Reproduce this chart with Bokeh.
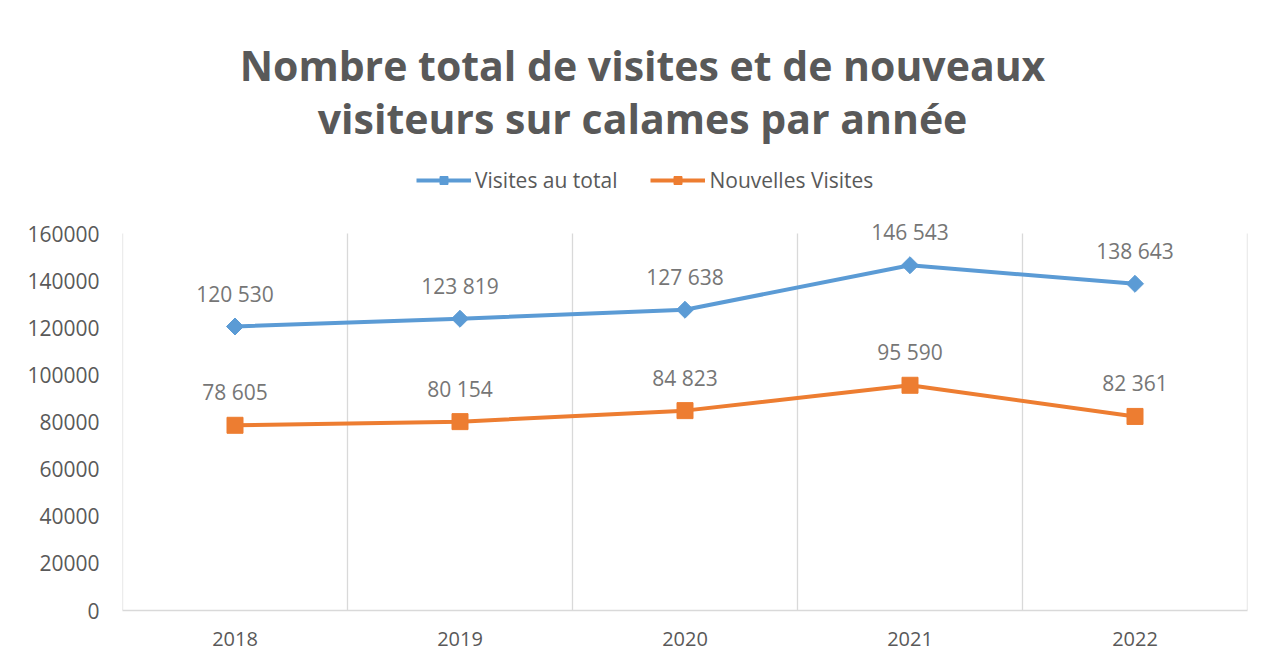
import numpy as np
from bokeh.plotting import figure
from bokeh.core.properties import value
from bokeh.models import (ColumnDataSource, FixedTicker, Label, LabelSet, Legend,
                          LegendItem, NumeralTickFormatter, Range1d)
from bokeh.embed import file_html
from bokeh.resources import INLINE

# ---- data ----
years = ["2018", "2019", "2020", "2021", "2022"]
total_visits = [120530, 123819, 127638, 146543, 138643]
new_visits = [78605, 80154, 84823, 95590, 82361]
series_names = ["Visites au total", "Nouvelles Visites"]
title_lines = ["Nombre total de visites et de nouveaux",
               "visiteurs sur calames par année"]
y_ticks = [0, 20000, 40000, 60000, 80000, 100000, 120000, 140000, 160000]

BLUE = "#5B9BD5"
ORANGE = "#ED7D31"
TEXT = "#595959"
LABEL = "#767676"
GRID = "#D9D9D9"
FONT = "Open Sans"

# layout (page pixels)
W, H = 1260, 655
PLOT_L, PLOT_R, PLOT_T, PLOT_B = 122, 1247, 233, 610
BL = PLOT_L
BR = W - PLOT_R
BT = 0
BB = H - PLOT_B
FH = PLOT_B - BT

xs = list(range(len(years)))
x0, x1 = -0.5, len(years) - 0.5
y0 = 0
ytop = y_ticks[-1]
y1 = ytop * FH / (PLOT_B - PLOT_T)   # frame extends above the plot area

def fmt(v):
    return f"{v:,}".replace(",", " ")

def x_at(px):
    return x0 + (px - PLOT_L) / (PLOT_R - PLOT_L) * (x1 - x0)

def y_at(py):
    return y0 + (PLOT_B - py) / (PLOT_B - PLOT_T) * (ytop - y0)

p = figure(width=W, height=H, output_backend="svg", toolbar_location=None,
           x_range=Range1d(x0, x1), y_range=Range1d(y0, y1),
           min_border_left=BL, min_border_right=BR, min_border_top=BT,
           min_border_bottom=BB)
p.outline_line_color = None
p.background_fill_color = "white"
p.border_fill_color = "white"

# axes
p.xaxis.ticker = FixedTicker(ticks=xs)
p.xaxis.major_label_overrides = {i: y for i, y in enumerate(years)}
p.xaxis.axis_line_color = GRID
p.xaxis.axis_line_width = 1.3
p.xaxis.major_tick_line_color = None
p.xaxis.minor_tick_line_color = None
p.xaxis.major_label_standoff = 15
p.xaxis.major_label_text_font = FONT
p.xaxis.major_label_text_font_size = "20px"
p.xaxis.major_label_text_color = TEXT

p.yaxis.ticker = FixedTicker(ticks=y_ticks)
p.yaxis.formatter = NumeralTickFormatter(format="0")
p.yaxis.axis_line_color = None
p.yaxis.major_tick_line_color = None
p.yaxis.minor_tick_line_color = None
p.yaxis.major_label_standoff = 17
p.yaxis.major_label_text_font = FONT
p.yaxis.major_label_text_font_size = "21px"
p.yaxis.major_label_text_color = TEXT

p.ygrid.grid_line_color = None
p.xgrid.grid_line_color = None

# vertical separators between categories, spanning the value axis
bounds = [i - 0.5 for i in range(len(years) + 1)]
p.segment(x0=bounds, y0=[y0] * len(bounds), x1=bounds, y1=[ytop] * len(bounds),
          line_color=GRID, line_width=1.3)

src = ColumnDataSource(dict(x=xs, total=total_visits, new=new_visits,
                            total_lbl=[fmt(v) for v in total_visits],
                            new_lbl=[fmt(v) for v in new_visits]))

l1 = p.line("x", "total", source=src, line_color=BLUE, line_width=4)
m1 = p.scatter("x", "total", source=src, marker="square", angle=np.pi / 4,
               size=12, fill_color=BLUE, line_color=BLUE)
l2 = p.line("x", "new", source=src, line_color=ORANGE, line_width=4)
m2 = p.scatter("x", "new", source=src, marker="square", size=16,
               fill_color=ORANGE, line_color=ORANGE)

for col, ycol in (("total_lbl", "total"), ("new_lbl", "new")):
    p.add_layout(LabelSet(x="x", y=ycol, text=col, source=src,
                          text_align="center", text_baseline="middle",
                          y_offset=33, text_font=value(FONT),
                          text_font_size=value("21px"), text_color=LABEL))

# title
for line, py in zip(title_lines, (64, 117)):
    p.add_layout(Label(x=x_at(642), y=y_at(py), text=line,
                       text_align="center", text_baseline="alphabetic",
                       text_font=FONT, text_font_style="bold",
                       text_font_size="41px", text_color=TEXT))

legend = Legend(items=[LegendItem(label=series_names[0], renderers=[l1, m1]),
                       LegendItem(label=series_names[1], renderers=[l2, m2])],
                orientation="horizontal", location=(294, 416),
                padding=0, margin=0, spacing=33, label_standoff=4,
                glyph_width=55, glyph_height=20, label_height=20,
                border_line_alpha=0, background_fill_alpha=0,
                label_text_font=FONT, label_text_font_size="21px",
                label_text_color=TEXT)
p.add_layout(legend)

open("out.html", "w").write(file_html(p, INLINE))
